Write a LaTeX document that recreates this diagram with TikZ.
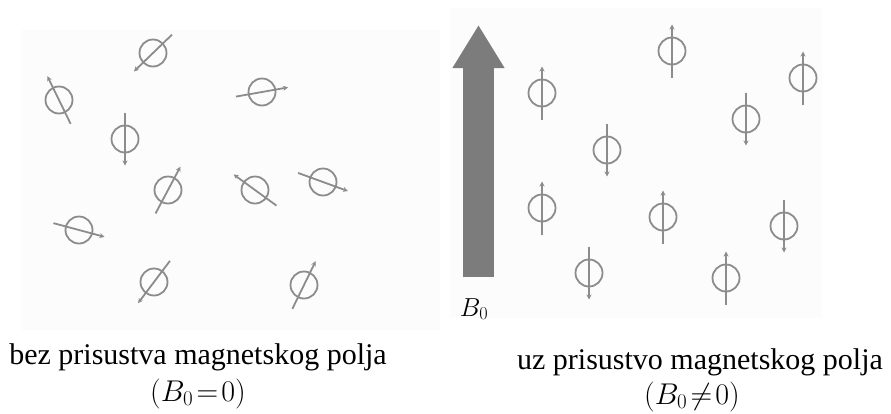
\RequirePackage{fix-cm}
\documentclass[tikz,border=0pt]{standalone}
\usepackage{fontspec}
\setmainfont{Liberation Serif}
\usetikzlibrary{arrows.meta,calc}
\definecolor{spincol}{RGB}{140,140,140}
\definecolor{fieldcol}{RGB}{124,124,124}
\definecolor{panelcol}{RGB}{252,252,252}
\tikzset{
  spinring/.style={draw=spincol,line width=1.8pt},
  spinaxis/.style={draw=spincol,line width=1.8pt,-{Stealth[length=5pt,width=5pt]}},
  caption/.style={anchor=base,inner sep=0pt,font=\fontsize{30}{36}\selectfont},
  fieldlabel/.style={anchor=base,inner sep=0pt,font=\fontsize{26}{30}\selectfont},
}
\newcommand{\spinat}[4]{%
  \coordinate (#1) at (#2,#3);
  \draw[spinring] (#1) circle[radius=13.5pt];
  \draw[spinaxis] ($(#1)+({#4+180}:26.5pt)$) -- ($(#1)+(#4:26.5pt)$);
}
\begin{document}
\begin{tikzpicture}[x=1pt,y=-1pt]
\useasboundingbox (0,0) rectangle (891,413);
\fill[white] (0,0) rectangle (891,413);
% faint panels
\fill[panelcol] (22,30) rectangle (440,330);
\fill[panelcol] (450,8) rectangle (822,318);
% left panel: random spins
\spinat{l1}{153}{53}{224}
\spinat{l2}{59}{100}{116}
\spinat{l3}{262}{92}{10}
\spinat{l4}{125}{139}{270}
\spinat{l5}{168}{190}{62}
\spinat{l6}{255}{190}{144}
\spinat{l7}{323}{182}{340}
\spinat{l8}{79}{230}{345}
\spinat{l9}{154}{282}{233}
\spinat{l10}{304}{285}{64}
% field arrow
\coordinate (ftail) at (478.5,277);
\coordinate (ftip) at (478.5,25);
\draw[fieldcol,line width=31pt,-{Triangle[length=43pt,width=49pt]}] (ftail) -- (ftip);
\node[fieldlabel] (b0) at (474,316) {$B_0$};
% right panel: aligned spins
\spinat{r1}{542}{93}{90}
\spinat{r2}{672}{51}{90}
\spinat{r3}{803}{78}{90}
\spinat{r4}{746}{119}{270}
\spinat{r5}{607}{150}{270}
\spinat{r6}{542}{208}{90}
\spinat{r7}{663}{217}{90}
\spinat{r8}{784}{226}{270}
\spinat{r9}{589}{273}{270}
\spinat{r10}{726}{278}{90}
% captions
\node[caption] (capl) at (198,364) {bez prisustva magnetskog polja};
\node[caption] (capl2) at (198,401) {$(B_0\!=\!0)$};
\node[caption] (capr) at (700,369) {uz prisustvo magnetskog polja};
\node[caption] (capr2) at (692,404) {$(B_0\!\neq\!0)$};
\end{tikzpicture}
\end{document}
